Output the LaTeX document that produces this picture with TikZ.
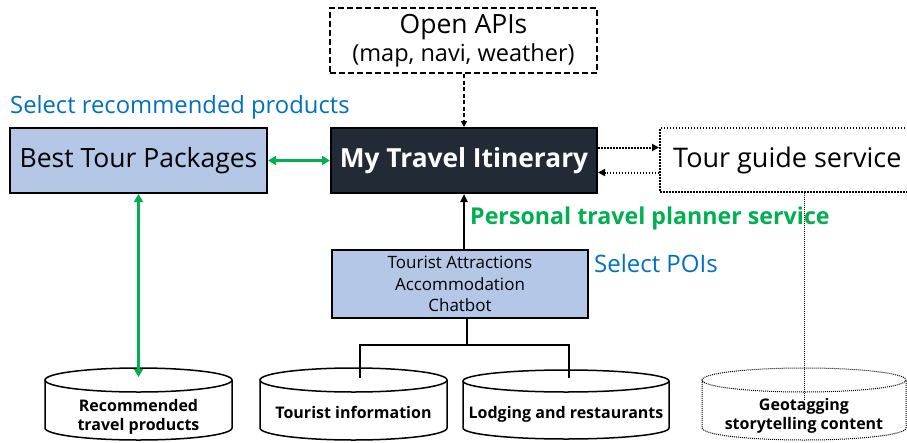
\documentclass[tikz,border=0pt]{standalone}
\usepackage{fontspec}
\setmainfont{Open Sans}
\usetikzlibrary{arrows.meta}
\definecolor{lblue}{HTML}{B4C7E7}
\definecolor{dark}{HTML}{222A35}
\definecolor{tgreen}{HTML}{00B050}
\definecolor{tblue}{HTML}{0070C0}
\newcommand{\drumshape}[6]{% style, left, right, top cy, bottom cy, ry
  \pgfmathsetmacro{\drx}{(#3-#2)/2}
  \pgfmathsetmacro{\dcx}{(#3+#2)/2}
  \draw[#1,fill=white] (#2,#4) -- (#2,#5) arc (180:0:{\drx} and #6) -- (#3,#4);
  \draw[#1] (\dcx,#4) ellipse ({\drx} and #6);
}
\begin{document}
\begin{tikzpicture}[x=1pt,y=-1pt,
  box/.style={draw,line width=2pt,inner sep=0pt},
  lbbox/.style={box,fill=lblue},
  garrow/.style={tgreen,line width=2.5pt,{Triangle[length=8pt,width=9pt]}-{Triangle[length=8pt,width=9pt]}},
  blackline/.style={line width=2pt},
  dotline/.style={line width=2pt,dash pattern=on 1.5pt off 1.5pt},
  thindot/.style={line width=1pt,dash pattern=on 1pt off 1pt},
  cyltext/.style={font=\bfseries\fontsize{16}{18.5}\selectfont,align=center}
]
\useasboundingbox (0,0) rectangle (907,442);

% Open APIs
\node[box,dash pattern=on 6pt off 3pt,minimum width=267pt,minimum height=65pt,align=center,
  font=\fontsize{26.5}{30}\selectfont] (api) at (463.5,40.5)
  {Open APIs\\[-2pt]{\fontsize{23.5}{25}\selectfont (map, navi, weather)}};

% Best Tour Packages
\node[lbbox,minimum width=257pt,minimum height=65pt,font=\fontsize{26.5}{30}\selectfont] (best) at (138.5,160.5) {Best Tour Packages};
\node[anchor=west,text=tblue,font=\fontsize{23.8}{25}\selectfont,inner sep=0pt] (selrec) at (10,107) {Select recommended products};

% My Travel Itinerary
\node[box,fill=dark,text=white,minimum width=266pt,minimum height=65pt,font=\bfseries\fontsize{26.3}{30}\selectfont] (my) at (464,160.5) {My Travel Itinerary};

% Tour guide service
\node[draw,dotline,minimum width=260pt,minimum height=64pt,anchor=west,inner sep=0pt] (tour) at (659,160) {};
\node[anchor=west,inner sep=0pt,font=\fontsize{27}{30}\selectfont] (tourtxt) at (673,160) {Tour guide service};

% Personal travel planner service
\node[anchor=west,inner sep=0pt,text=tgreen,font=\bfseries\fontsize{23.2}{26}\selectfont] (pers) at (470,218) {Personal travel planner service};

% Tourist attractions box
\node[lbbox,minimum width=256pt,minimum height=68pt,align=center,font=\fontsize{17}{21.5}\selectfont] (ta) at (460,284) {Tourist Attractions\\Accommodation\\Chatbot};
\node[anchor=west,inner sep=0pt,text=tblue,font=\fontsize{24}{26}\selectfont] (selpoi) at (594,263) {Select POIs};

% cylinders
\drumshape{line width=1.5pt}{45}{232}{380}{428}{12}
\drumshape{line width=1.5pt}{260}{447}{380}{428}{12}
\drumshape{line width=1.5pt}{463}{669}{381}{428}{11}
\drumshape{thindot}{702}{906}{380}{428}{12}
\node[cyltext] (c1) at (138.5,417) {Recommended\\travel products};
\node[cyltext] (c2) at (353.5,412) {Tourist information};
\node[cyltext] (c3) at (566,414) {Lodging and restaurants};
\node[cyltext] (c4) at (804,416) {Geotagging\\storytelling content};
\coordinate (c1top) at (138.5,377);
\coordinate (c2top) at (360,378);
\coordinate (c3top) at (569,378);
\coordinate (c4top) at (804,400);

% connectors
\draw[line width=1.5pt,dash pattern=on 4pt off 2.5pt,-{Triangle[length=6pt,width=6pt]}] (api.south -| my.north) -- (my.north);
\draw[garrow] (best.east) -- (my.west);
\draw[garrow] (best.south) -- (c1top);
\draw[dotline,-{Triangle[length=7pt,width=7pt]}] ([yshift=13pt]my.east) -- ([yshift=13pt]my.east -| tour.west);
\draw[dotline,-{Triangle[length=7pt,width=7pt]}] ([yshift=-12pt]my.east -| tour.west) -- ([yshift=-12pt]my.east);
\draw[blackline,-{Triangle[length=8pt,width=7pt]}] (ta.north -| my.south) -- (my.south);
\coordinate (split) at (467,345);
\draw[blackline] (ta.south -| split) -- (split);
\draw[blackline] (c2top) |- (split) -| (c3top);
\draw[thindot] (tour.south -| c4top) -- (c4top);
\end{tikzpicture}
\end{document}
